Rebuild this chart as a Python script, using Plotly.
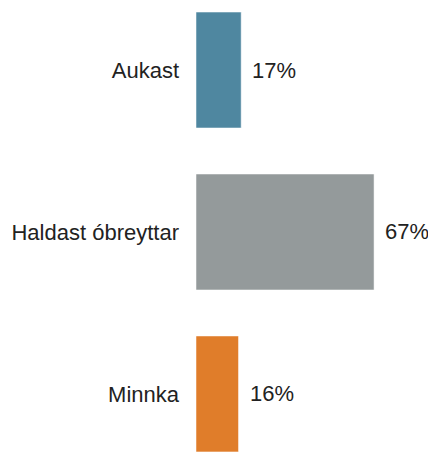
import plotly.graph_objects as go

categories = ["Aukast", "Haldast óbreyttar", "Minnka"]
values = [17, 67, 16]
colors = ["#4F87A0", "#949A9B", "#E07D2A"]
value_labels = [f"{v}%" for v in values]

FONT = "Liberation Sans, Arial, sans-serif"

fig = go.Figure(
    go.Bar(
        x=values,
        y=categories,
        orientation="h",
        width=0.716,
        marker=dict(color=colors, line=dict(color="rgba(255,255,255,0.5)", width=1)),
        hoverinfo="skip",
    )
)

for c, v, t in zip(categories, values, value_labels):
    fig.add_annotation(
        x=v, y=c, text=t, showarrow=False, xanchor="left", yanchor="middle",
        xshift=9, font=dict(family=FONT, size=22, color="#222222"),
    )

fig.update_layout(
    width=428,
    height=447,
    margin=dict(l=188, r=0, t=0, b=0),
    paper_bgcolor="white",
    plot_bgcolor="white",
    showlegend=False,
    font=dict(family=FONT, size=22, color="#222222"),
    xaxis=dict(range=[0, 90.3], visible=False, fixedrange=True),
    yaxis=dict(
        type="category",
        categoryorder="array",
        categoryarray=categories,
        range=[2.377, -0.383],
        showgrid=False,
        zeroline=False,
        showline=False,
        ticks="",
        ticklabelstandoff=16,
        tickfont=dict(family=FONT, size=22, color="#222222"),
        fixedrange=True,
    ),
)

fig.write_html("out.html")
